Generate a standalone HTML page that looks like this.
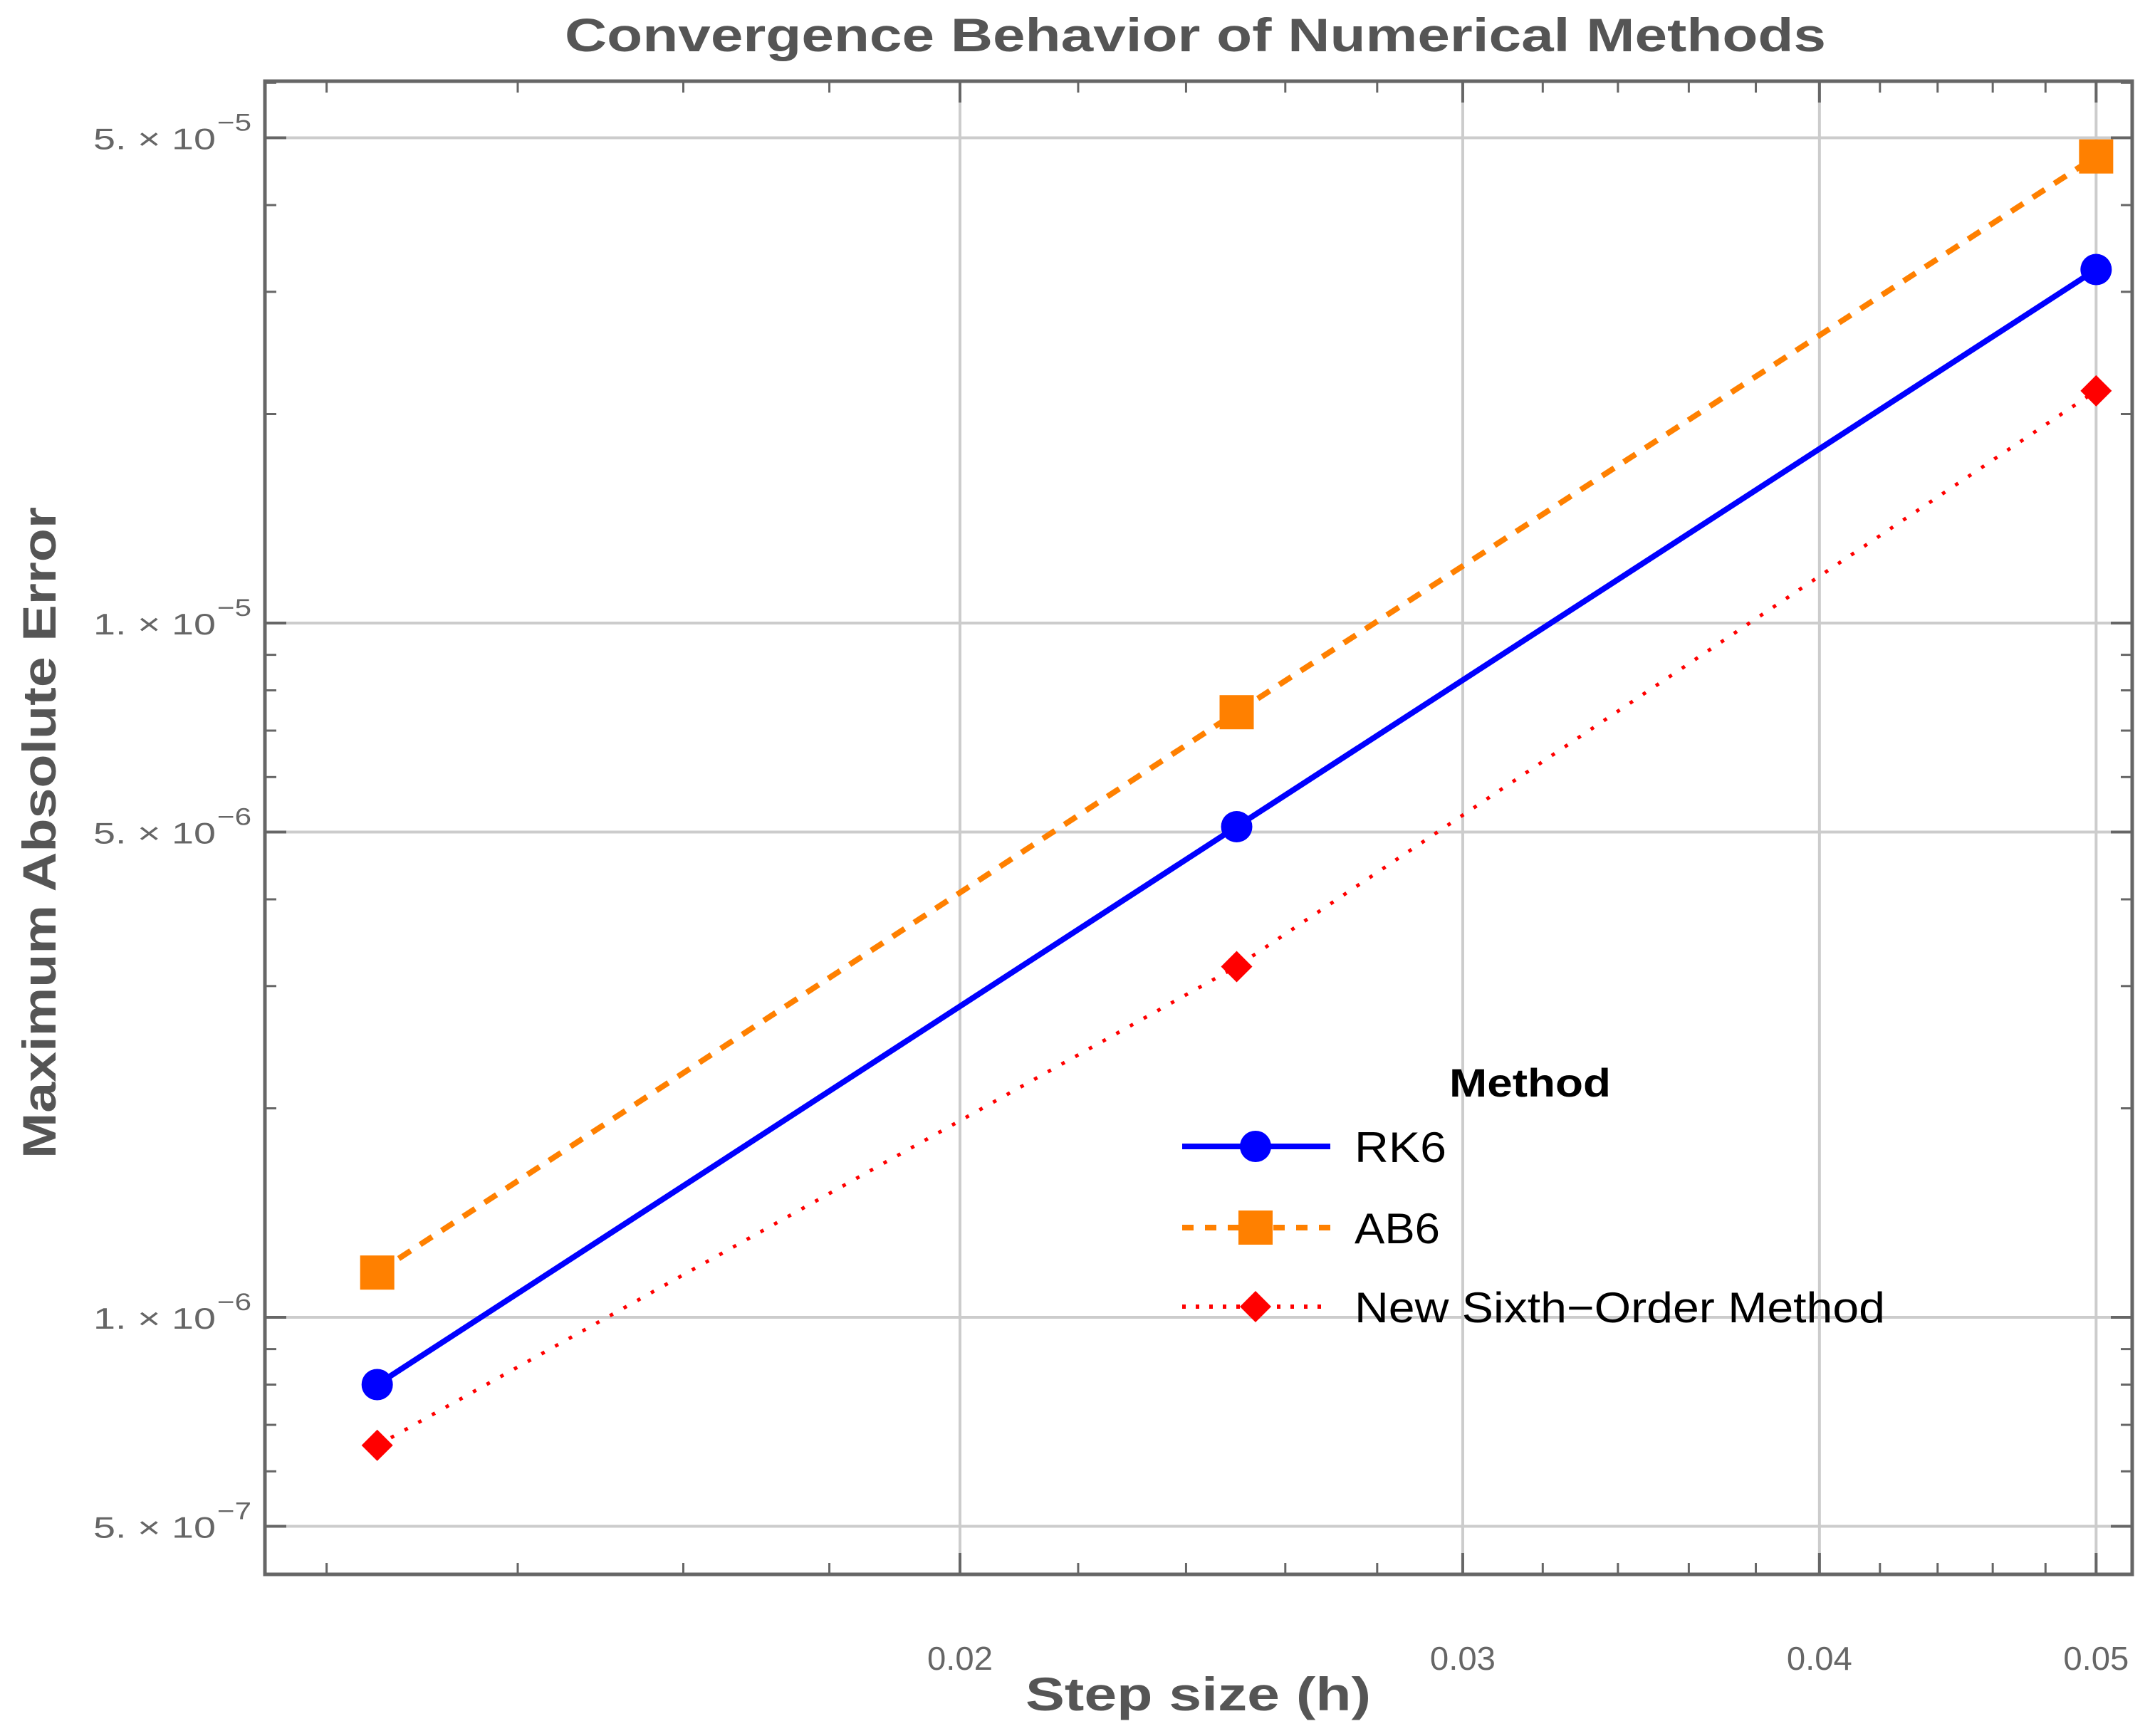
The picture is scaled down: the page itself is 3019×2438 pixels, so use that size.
<!DOCTYPE html>
<html><head><meta charset="utf-8"><style>
html,body{margin:0;padding:0;background:#fff;}
svg{display:block;font-family:"Liberation Sans",sans-serif;}
</style></head><body>
<svg id="chart" width="3019" height="2438" viewBox="0 0 3019 2438" xmlns="http://www.w3.org/2000/svg">
<g id="grid"></g>
<g id="series"></g>
<g id="axes"></g>
<text x="793" y="72" font-size="66" font-weight="bold" fill="#555" textLength="1771" lengthAdjust="spacingAndGlyphs">Convergence Behavior of Numerical Methods</text>
<text x="1440" y="2402" font-size="66" font-weight="bold" fill="#555" textLength="485" lengthAdjust="spacingAndGlyphs">Step size  (h)</text>
<text transform="translate(78,1627) rotate(-90)" font-size="66" font-weight="bold" fill="#555" textLength="915" lengthAdjust="spacingAndGlyphs">Maximum Absolute Error</text>
<g id="legend"></g>
</svg>
<script>
const hValues = [0.0125, 0.025, 0.05];
const rk6Errors = [8.0e-7, 5.09e-6, 3.23e-5];
const ab6Errors = [1.16e-6, 7.44e-6, 4.70e-5];
const newErrors = [6.54e-7, 3.2e-6, 2.16e-5];
const xMajorTicks = [0.02, 0.03, 0.04, 0.05];
const xMajorLabels = ["0.02", "0.03", "0.04", "0.05"];
const xMinorTicks = [0.012,0.014,0.016,0.018,0.022,0.024,0.026,0.028,0.032,0.034,0.036,0.038,0.042,0.044,0.046,0.048];
const yGridTicks = [5e-5, 1e-5, 5e-6, 1e-6, 5e-7];
const yLabelMant = ["5.", "1.", "5.", "1.", "5."];
const yLabelExp = ["-5", "-5", "-6", "-6", "-7"];
const yMinorTicks = [6e-5,4e-5,3e-5,2e-5,9e-6,8e-6,7e-6,6e-6,4e-6,3e-6,2e-6,9e-7,8e-7,7e-7,6e-7];

const L=372,R=2994,T=114,B=2211;
const NS="http://www.w3.org/2000/svg";
function X(h){return 1348+4009*Math.log10(h/0.02);}
function Y(v){return 875-975*Math.log10(v/1e-5);}
function mk(tag,attrs,parent){const e=document.createElementNS(NS,tag);for(const k in attrs)e.setAttribute(k,attrs[k]);parent.appendChild(e);return e;}
const grid=document.getElementById('grid'),axes=document.getElementById('axes'),series=document.getElementById('series'),legend=document.getElementById('legend');

xMajorTicks.forEach((t,i)=>{
  const x=X(t);
  const g=mk('line',{x1:x,x2:x,y1:T,y2:B,stroke:'#ccc','stroke-width':4},grid);
  
  
  [[B,B-30],[T,T+30]].forEach(p=>{const tk=mk('line',{x1:x,x2:x,y1:p[0],y2:p[1],stroke:'#666','stroke-width':4},axes);
    
    });
  const lb=mk('text',{x:x,y:2345,'text-anchor':'middle','font-size':46,fill:'#666',textLength:92,lengthAdjust:'spacingAndGlyphs'},axes);
  
  
  lb.textContent=xMajorLabels[i];
});
xMinorTicks.forEach(t=>{
  const x=X(t);
  [[B,B-16],[T,T+16]].forEach(p=>{const tk=mk('line',{x1:x,x2:x,y1:p[0],y2:p[1],stroke:'#666','stroke-width':3},axes);
    
    });
});
yGridTicks.forEach((t,i)=>{
  const y=Y(t);
  const g=mk('line',{x1:L,x2:R,y1:y,y2:y,stroke:'#ccc','stroke-width':4},grid);
  
  
  [[L,L+30],[R,R-30]].forEach(p=>{const tk=mk('line',{x1:p[0],x2:p[1],y1:y,y2:y,stroke:'#666','stroke-width':4},axes);
    
    });
  const lb=mk('text',{x:131,y:y+16,'font-size':42,fill:'#666',textLength:172,lengthAdjust:'spacingAndGlyphs'},axes);
  
  
  lb.textContent=yLabelMant[i]+" \u00d7 10";
  const ex=mk('text',{x:305,y:y-10,'font-size':34,fill:'#666',textLength:48,lengthAdjust:'spacingAndGlyphs'},axes);
  
  
  ex.textContent=yLabelExp[i].replace('-','\u2212');
});
yMinorTicks.forEach(t=>{
  const y=Y(t);
  [[L,L+16],[R,R-16]].forEach(p=>{const tk=mk('line',{x1:p[0],x2:p[1],y1:y,y2:y,stroke:'#666','stroke-width':3},axes);
    
    });
});
const frame=mk('rect',{x:L,y:T,width:R-L,height:B-T,fill:'none',stroke:'#666','stroke-width':5},axes);



function marker(kind,x,y,color,parent,name){
  let m;
  if(kind==='circle') m=mk('circle',{cx:x,cy:y,r:22,fill:color},parent);
  else if(kind==='square') m=mk('rect',{x:x-24,y:y-24,width:48,height:48,fill:color},parent);
  else m=mk('polygon',{points:`${x},${y-22} ${x+22},${y} ${x},${y+22} ${x-22},${y}`,fill:color},parent);
  
  
}
const defs=[
  {vals:ab6Errors,color:'#ff8000',w:8,dash:'20 16',kind:'square',name:'ab6'},
  {vals:rk6Errors,color:'#0000ff',w:8,dash:'',kind:'circle',name:'rk6'},
  {vals:newErrors,color:'#ff0000',w:5,dash:'5 17',kind:'diamond',name:'new-sixth-order'}
];
defs.forEach(s=>{
  const pts=hValues.map((h,i)=>X(h)+','+Y(s.vals[i])).join(' ');
  const pl=mk('polyline',{points:pts,fill:'none',stroke:s.color,'stroke-width':s.w,'stroke-dasharray':s.dash},series);
  
  
  hValues.forEach((h,i)=>marker(s.kind,X(h),Y(s.vals[i]),s.color,series,s.name+'-point'));
});

const lt=mk('text',{x:2035,y:1540,'font-size':56,'font-weight':'bold',fill:'#000',textLength:227,lengthAdjust:'spacingAndGlyphs'},legend);


lt.textContent='Method';
const leg=[
  {y:1610,color:'#0000ff',w:8,dash:'',kind:'circle',label:'RK6',len:129,name:'legend-rk6'},
  {y:1724,color:'#ff8000',w:8,dash:'16 16',kind:'square',label:'AB6',len:120,name:'legend-ab6'},
  {y:1835,color:'#ff0000',w:6,dash:'5 14',kind:'diamond',label:'New Sixth\u2212Order Method',len:745,name:'legend-new-sixth-order'}
];
leg.forEach(e=>{
  const g=mk('g',{},legend);
  
  
  mk('line',{x1:1660,x2:1868,y1:e.y,y2:e.y,stroke:e.color,'stroke-width':e.w,'stroke-dasharray':e.dash},g);
  marker(e.kind,1763,e.y,e.color,g,e.name+'-marker');
  const t=mk('text',{x:1902,y:e.y+22,'font-size':60,fill:'#000',textLength:e.len,lengthAdjust:'spacingAndGlyphs'},g);
  
  
  t.textContent=e.label;
});
</script>
</body></html>
